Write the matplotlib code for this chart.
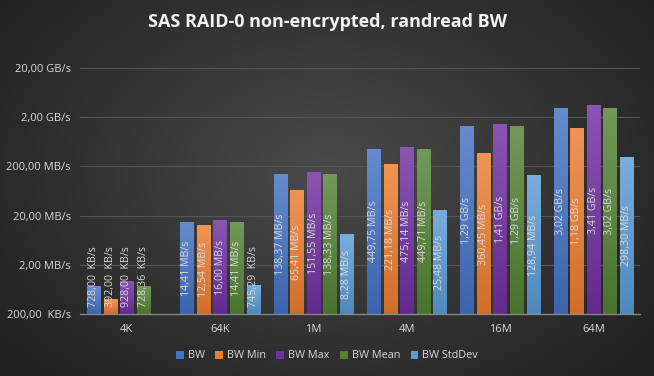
import numpy as np
import matplotlib
matplotlib.use("Agg")
import matplotlib.pyplot as plt
from matplotlib.transforms import Bbox, TransformedBbox, BboxTransformTo, blended_transform_factory
from matplotlib.colors import to_rgb
from matplotlib.patches import Patch

# ---- data (values in MB/s, decimal units) ----
categories = ["4K", "64K", "1M", "4M", "16M", "64M"]
series_names = ["BW", "BW Min", "BW Max", "BW Mean", "BW StdDev"]
bw = [0.728, 14.41, 138.37, 449.75, 1290.0, 3020.0]
bw_min = [0.392, 12.54, 65.41, 221.18, 360.45, 1180.0]
bw_max = [0.928, 16.00, 151.55, 475.14, 1410.0, 3410.0]
bw_mean = [0.72836, 14.41, 138.33, 449.71, 1290.0, 3020.0]
bw_std = [np.nan, 0.74529, 8.28, 25.48, 128.94, 298.30]
labels_bw = ["728,00  KB/s", "14,41 MB/s", "138,37 MB/s", "449,75 MB/s", "1,29 GB/s", "3,02 GB/s"]
labels_min = ["392,00  KB/s", "12,54 MB/s", "65,41 MB/s", "221,18 MB/s", "360,45 MB/s", "1,18 GB/s"]
labels_max = ["928,00  KB/s", "16,00 MB/s", "151,55 MB/s", "475,14 MB/s", "1,41 GB/s", "3,41 GB/s"]
labels_mean = ["728,36  KB/s", "14,41 MB/s", "138,33 MB/s", "449,71 MB/s", "1,29 GB/s", "3,02 GB/s"]
labels_std = ["", "745,29  KB/s", "8,28 MB/s", "25,48 MB/s", "128,94 MB/s", "298,30 MB/s"]
ytick_values = [0.2, 2, 20, 200, 2000, 20000]
ytick_labels = ["200,00  KB/s", "2,00 MB/s", "20,00 MB/s", "200,00 MB/s", "2,00 GB/s", "20,00 GB/s"]

series = [bw, bw_min, bw_max, bw_mean, bw_std]
series_labels = [labels_bw, labels_min, labels_max, labels_mean, labels_std]
colors = ["#4472C4", "#ED7D31", "#7030A0", "#548235", "#5B9BD5"]

TXT = "#d9d9d9"
plt.rcParams['font.family'] = ['Open Sans', 'DejaVu Sans']

W, H = 654, 376
fig = plt.figure(figsize=(W / 100, H / 100), dpi=100)

# radial dark background
bg = fig.add_axes([0, 0, 1, 1], zorder=-10)
yy, xx = np.mgrid[0:H, 0:W]
r = np.sqrt(((xx - W * 0.5) / (W * 0.62)) ** 2 + ((yy - H * 0.45) / (H * 0.75)) ** 2)
r = np.clip(r, 0, 1)
c_in = np.array([0x4a, 0x4a, 0x4a]) / 255
c_out = np.array([0x22, 0x22, 0x22]) / 255
img = c_in[None, None, :] * (1 - r[..., None]) + c_out[None, None, :] * r[..., None]
bg.imshow(img, aspect='auto', extent=(0, 1, 0, 1))
bg.axis('off')

ax = fig.add_axes([80 / W, 1 - 314 / H, 560 / W, (314 - 68) / H])
ax.set_facecolor('none')
ax.set_yscale('log')
ymin, ymax = 0.2, 20000
ax.set_ylim(ymin, ymax)
n = len(categories)
x = np.arange(n)
ax.set_xlim(-0.5, n - 0.5)

bw_w = 0.14
pitch = 0.178
offsets = (np.arange(5) - 2) * pitch

def lighten(c, f):
    c = np.array(to_rgb(c))
    return c + (1 - c) * f

def darken(c, f):
    c = np.array(to_rgb(c))
    return c * (1 - f)

ytrans = blended_transform_factory(ax.transData, ax.transAxes)
axh_px = 314 - 68
for i, (vals, labs, col, name) in enumerate(zip(series, series_labels, colors, series_names)):
    xs = x + offsets[i]
    v = np.array(vals, dtype=float)
    bars = ax.bar(xs, np.nan_to_num(v, nan=0.0), width=bw_w, bottom=0, color=col, zorder=2, label=name)
    top_c = lighten(col, 0.18)
    bot_c = darken(col, 0.12)
    grad = np.linspace(0, 1, 64)[:, None, None]
    gimg = bot_c[None, None, :] * (1 - grad) + top_c[None, None, :] * grad
    for xc, val, lab in zip(xs, v, labs):
        if np.isnan(val):
            continue
        bb = Bbox.from_extents(xc - bw_w / 2, ymin, xc + bw_w / 2, val)
        tr = BboxTransformTo(TransformedBbox(bb, ax.transData))
        ax.imshow(gimg, extent=(0, 1, 0, 1), origin='lower', transform=tr,
                  aspect='auto', zorder=2.5, interpolation='bilinear')
        # label centered in bar, but kept inside plot
        frac_top = (np.log10(val) - np.log10(ymin)) / (np.log10(ymax) - np.log10(ymin))
        mid = frac_top / 2
        lab_len = len(lab) * 6.0 / axh_px
        if mid - lab_len / 2 < 0.028:
            ax.text(xc, 7 / axh_px, lab, rotation=90, ha='center', va='bottom',
                    fontsize=7.7, color=TXT, transform=ytrans, zorder=4)
        else:
            ax.text(xc, mid, lab, rotation=90, ha='center', va='center',
                    fontsize=7.7, color=TXT, transform=ytrans, zorder=4)

ax.set_ylim(ymin, ymax)
ax.set_xlim(-0.5, n - 0.5)
ax.set_yticks(ytick_values)
ax.set_yticklabels(ytick_labels)
ax.yaxis.set_minor_locator(matplotlib.ticker.NullLocator())
ax.set_xticks(x)
ax.set_xticklabels(categories)
ax.tick_params(axis='both', length=0, colors=TXT, labelsize=8)
ax.tick_params(axis='y', pad=6.5)
ax.tick_params(axis='x', pad=7)
ax.grid(axis='y', color='#555555', linewidth=0.8, zorder=0)
ax.set_axisbelow(True)
for s in ['top', 'right', 'left']:
    ax.spines[s].set_visible(False)
ax.spines['bottom'].set_color('#8a8a8a')
ax.spines['bottom'].set_linewidth(0.9)

fig.text(0.5, 1 - 22 / H, "SAS RAID-0 non-encrypted, randread BW", ha='center', va='center',
         fontsize=13, fontweight='bold', color='#f2f2f2')

handles = [Patch(facecolor=c, edgecolor='none') for c in colors]
leg = fig.legend(handles, series_names, loc='center', bbox_to_anchor=(0.5, 1 - 356 / H), ncol=5,
                 frameon=False, fontsize=7.8, handlelength=0.7, handleheight=0.7,
                 handletextpad=0.4, columnspacing=0.95, labelcolor=TXT)

fig.savefig("out.png", dpi=100)
